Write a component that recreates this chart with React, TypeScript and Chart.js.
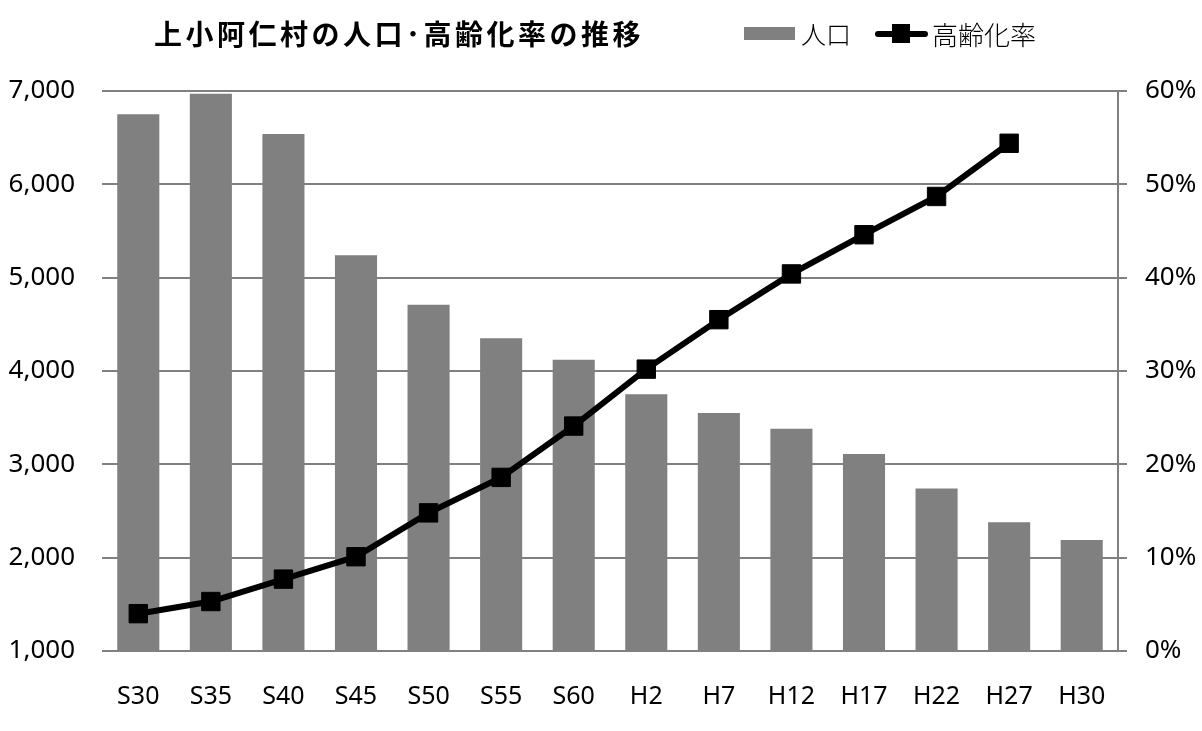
import React, { useEffect, useRef } from 'react';
import { Chart, registerables } from 'chart.js';

Chart.register(...registerables);

// 年次
const categories = ['S30', 'S35', 'S40', 'S45', 'S50', 'S55', 'S60', 'H2', 'H7', 'H12', 'H17', 'H22', 'H27', 'H30'];
// 人口 (人)
const population = [6750, 6970, 6540, 5240, 4710, 4350, 4120, 3750, 3550, 3380, 3110, 2740, 2380, 2190];
// 高齢化率 (%)
const agingRate: (number | null)[] = [4.0, 5.3, 7.7, 10.1, 14.8, 18.6, 24.1, 30.2, 35.5, 40.4, 44.6, 48.7, 54.4, null];

const titleText = '上小阿仁村の人口･高齢化率の推移';
const popLabel = '人口';
const rateLabel = '高齢化率';

const GRAY = '#808080';
const tickFont = "'Noto Sans', 'Liberation Sans', sans-serif";
const cjkFont = "'Noto Sans CJK JP', sans-serif";

const App: React.FC = () => {
    const canvas = useRef<HTMLCanvasElement | null>(null);
    const chartRef = useRef<Chart | null>(null);

    useEffect(() => {
        const ctx = canvas.current;
        if (!ctx) return;
        if (chartRef.current) chartRef.current.destroy();

        chartRef.current = new Chart(ctx, {
            type: 'bar',
            data: {
                labels: categories,
                datasets: [
                    {
                        type: 'line',
                        label: rateLabel,
                        data: agingRate,
                        yAxisID: 'y1',
                        borderColor: '#000',
                        borderWidth: 6,
                        backgroundColor: '#000',
                        pointStyle: 'rect',
                        pointRadius: 13,
                        pointBorderWidth: 1,
                        pointBackgroundColor: '#000',
                        pointBorderColor: '#000',
                        tension: 0,
                        order: 1,
                    },
                    {
                        type: 'bar',
                        label: popLabel,
                        data: population,
                        yAxisID: 'y',
                        backgroundColor: GRAY,
                        borderWidth: 0,
                        categoryPercentage: 1,
                        barPercentage: 0.58,
                        order: 2,
                    },
                ],
            },
            options: {
                animation: false,
                responsive: true,
                maintainAspectRatio: false,
                layout: { padding: { top: 91, left: 0, right: 0, bottom: 0 } },
                plugins: {
                    legend: { display: false },
                    tooltip: { enabled: false },
                    title: { display: false },
                },
                scales: {
                    x: {
                        grid: { display: false, drawTicks: false },
                        border: { display: false },
                        ticks: {
                            color: '#000',
                            padding: 31,
                            font: { family: tickFont, size: 25 },
                        },
                        afterFit: (s: any) => { s.height = 80; },
                    },
                    y: {
                        position: 'left',
                        min: 1000,
                        max: 7000,
                        grid: { color: GRAY, lineWidth: 2, drawTicks: false },
                        border: { display: false },
                        ticks: {
                            stepSize: 1000,
                            color: '#000',
                            padding: 27,
                            font: { family: tickFont, size: 26 },
                            callback: (v: any) => Number(v).toLocaleString('en-US'),
                        },
                        afterFit: (s: any) => { s.width = 102; },
                    },
                    y1: {
                        position: 'right',
                        min: 0,
                        max: 60,
                        grid: { drawOnChartArea: false, drawTicks: true, tickLength: 9, color: GRAY, lineWidth: 2 },
                        border: { display: true, color: GRAY, width: 2 },
                        ticks: {
                            stepSize: 10,
                            color: '#000',
                            padding: 18,
                            font: { family: tickFont, size: 26 },
                            callback: (v: any) => v + '%',
                        },
                        afterFit: (s: any) => { s.width = 84; },
                    },
                },
            },
        });

        return () => {
            chartRef.current?.destroy();
            chartRef.current = null;
        };
    }, []);

    return (
        <div style={{ position: 'absolute', left: 0, top: 0, width: 1202, height: 731, background: '#fff' }}>
            <canvas ref={canvas}></canvas>
            <div style={{
                position: 'absolute', left: 154, top: 19, fontFamily: cjkFont, fontWeight: 700,
                fontSize: 28, letterSpacing: 3.5, lineHeight: 1, whiteSpace: 'nowrap', color: '#000',
            }}>{titleText}</div>
            {/* legend */}
            <div style={{ position: 'absolute', left: 744, top: 27, width: 51, height: 13, background: GRAY }} />
            <div style={{
                position: 'absolute', left: 801, top: 21, fontFamily: cjkFont, fontWeight: 300,
                fontSize: 25, lineHeight: 1, whiteSpace: 'nowrap', color: '#000',
            }}>{popLabel}</div>
            <div style={{ position: 'absolute', left: 875, top: 31, width: 53, height: 6, background: '#000', borderRadius: 3 }} />
            <div style={{ position: 'absolute', left: 892, top: 24, width: 18, height: 19, background: '#000' }} />
            <div style={{
                position: 'absolute', left: 932, top: 21, fontFamily: cjkFont, fontWeight: 300,
                fontSize: 26, lineHeight: 1, whiteSpace: 'nowrap', color: '#000',
            }}>{rateLabel}</div>
        </div>
    );
};

export default App;
